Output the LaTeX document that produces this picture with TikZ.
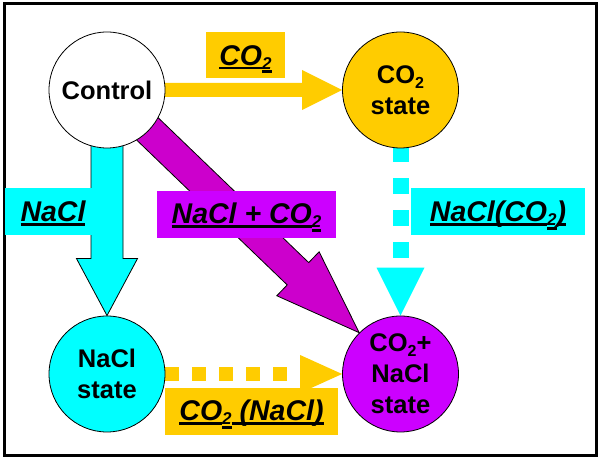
\documentclass[tikz,border=0pt]{standalone}
\usepackage{fontspec}
\setmainfont{Liberation Sans}
\usetikzlibrary{calc,backgrounds}
\definecolor{orng}{HTML}{FFCC00}
\definecolor{cyn}{HTML}{00FFFF}
\definecolor{purp}{HTML}{CC00FF}
\definecolor{magn}{HTML}{CC00CC}
\newcommand\ulx[1]{\setbox0\hbox{#1}\leavevmode\rlap{\rule[-3.8pt]{\wd0}{2.6pt}}\box0}
\newcommand\ulsub[1]{\raisebox{-3.8pt}{\ulx{\fontsize{17}{17}\selectfont #1}}}
\newcommand\sbs[1]{\raisebox{-5pt}{\fontsize{16}{16}\selectfont #1}}
\newcommand\blockarrow[6]{%
  \coordinate (ba-t) at (#3);
  \coordinate (ba-b) at ($(#3)!#6!(#2)$);
  \path[#1] ($(#2)!#4!90:(#3)$) -- ($(ba-b)!#4!90:(ba-t)$) -- ($(ba-b)!#5!90:(ba-t)$)
    -- (ba-t) -- ($(ba-b)!#5!-90:(ba-t)$) -- ($(ba-b)!#4!-90:(ba-t)$)
    -- ($(#2)!#4!-90:(#3)$) -- cycle;}
\tikzset{
  state/.style={circle, draw, line width=0.8pt, minimum size=116pt, inner sep=0pt,
    align=center, font=\fontsize{25.5}{31}\selectfont\bfseries},
  lab/.style={inner sep=0pt, text height=24pt, text depth=3pt,
    font=\fontsize{28.5}{32}\selectfont\bfseries\itshape},
}
\begin{document}
\begin{tikzpicture}[x=1pt,y=1pt]
\useasboundingbox (0,0) rectangle (600,460);
\draw[line width=3pt] (4,4) rectangle (596.5,456);
% states
\node[state, fill=white] (ctrl) at (107,370) {Control};
\node[state, fill=orng] (co2) at (400.5,370) {CO\sbs{2}\\state};
\node[state, fill=cyn] (nacl) at (107,86) {NaCl\\state};
\node[state, fill=purp] (mix) at (400.5,86) {CO\sbs{2}+\\NaCl\\state};
% arrows
\begin{pgfonlayer}{background}
\blockarrow{fill=orng}{ctrl.center}{co2.west}{7pt}{20pt}{40pt}
\blockarrow{fill=cyn, draw=black, line width=0.8pt}{ctrl.center}{nacl.north}{16pt}{30.5pt}{57pt}
\blockarrow{fill=magn, draw=black, line width=0.8pt}{ctrl.center}{mix.north west}{15.5pt}{30.5pt}{85pt}
\draw[cyn, line width=16pt, dash pattern=on 16pt off 16pt] ($(co2.south)+(0,2)$) -- ($(mix.north)+(0,48)$);
\fill[cyn] (mix.north) -- ++(-24,48) -- ++(48,0) -- cycle;
\draw[orng, line width=14pt, dash pattern=on 13.5pt off 13.5pt] (nacl.east) -- ($(mix.west)+(-42,0)$);
\fill[orng] (mix.west) -- ++(-42,19) -- ++(0,-38) -- cycle;
\end{pgfonlayer}
% labels
\node[lab, fill=orng, minimum width=79pt, minimum height=46pt] (lco2) at (245.5,405) {\ulx{CO}\ulsub{2}};
\node[lab, fill=cyn, minimum width=88pt, minimum height=47pt] (lnacl) at (49,248.5) {\hspace{8pt}\ulx{NaCl}};
\node[lab, fill=purp, minimum width=179pt, minimum height=47pt, text height=22pt] (lboth) at (246.5,245.5) {\ulx{NaCl + CO}\ulsub{2}};
\node[lab, fill=cyn, minimum width=174pt, minimum height=47pt] (lnc) at (498,248.5) {\ulx{NaCl(CO}\ulsub{2}\ulx{)}};
\node[lab, fill=orng, minimum width=173pt, minimum height=47pt, text height=22pt] (lcn) at (251.5,48.5) {\ulx{CO}\ulsub{2}\ulx{\ (NaCl)}};
\end{tikzpicture}
\end{document}
